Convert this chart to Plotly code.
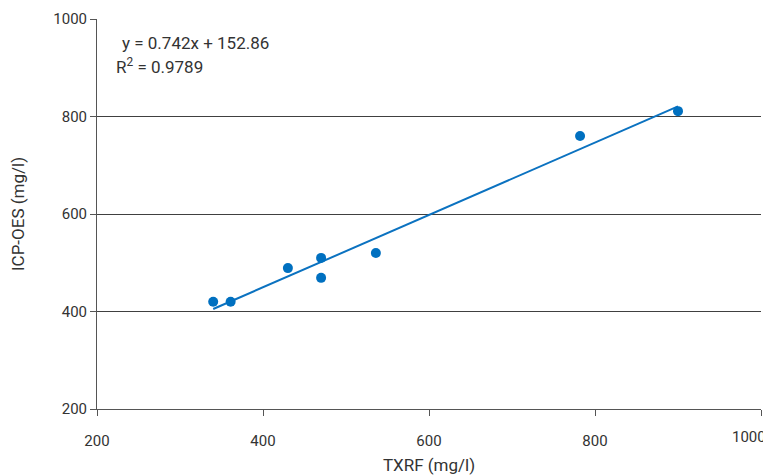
import plotly.graph_objects as go

txrf = [340, 361, 430, 470, 470, 536, 782, 900]
icp = [420, 420, 489, 510, 469, 520, 760, 811]
slope = 0.742
intercept = 152.86
r2 = 0.9789
xticks = [200, 400, 600, 800, 1000]
yticks = [200, 400, 600, 800, 1000]

xline = [min(txrf), max(txrf)]
yline = [slope * v + intercept for v in xline]

FONT = "Roboto, Arial, sans-serif"
TXT = "#333333"

fig = go.Figure()
fig.add_trace(go.Scatter(x=xline, y=yline, mode="lines",
                         line=dict(color="#0b72c0", width=2), hoverinfo="skip"))
fig.add_trace(go.Scatter(x=txrf, y=icp, mode="markers",
                         marker=dict(color="#0070c0", size=10)))

fig.add_annotation(xref="paper", yref="paper", x=0.035, y=0.938, xanchor="left", yanchor="middle",
                   text="y = %.3fx + %.2f" % (slope, intercept), showarrow=False,
                   font=dict(family=FONT, size=17, color=TXT))
fig.add_annotation(xref="paper", yref="paper", x=0.026, y=0.879, xanchor="left", yanchor="middle",
                   text="R<sup>2</sup> = %.4f" % r2, showarrow=False,
                   font=dict(family=FONT, size=17, color=TXT))
# last x tick label, kept inside the window as in the reference
fig.add_annotation(xref="x", yref="paper", x=xticks[-1], y=0, xanchor="right", yanchor="middle",
                   yshift=-28, xshift=6, borderpad=0, text=str(xticks[-1]), showarrow=False,
                   font=dict(family=FONT, size=15, color=TXT))

fig.update_layout(
    width=763, height=467,
    margin=dict(l=89, r=10, t=11, b=66),
    paper_bgcolor="white", plot_bgcolor="white",
    showlegend=False,
    font=dict(family=FONT, size=15, color=TXT),
    xaxis=dict(range=[200, 1000], tickvals=xticks,
               ticktext=[str(v) for v in xticks[:-1]] + [""], automargin=False,
               showgrid=False, zeroline=False, showline=True, linecolor="#555555", linewidth=1,
               ticks="outside", ticklen=6, tickcolor="#555555", ticklabelstandoff=12,
               title=dict(text="TXRF (mg/l)", standoff=10, font=dict(size=17))),
    yaxis=dict(range=[200, 1000], tickvals=yticks, automargin=False,
               showgrid=True, gridcolor="#404040", gridwidth=1, zeroline=False,
               showline=True, linecolor="#555555", linewidth=1,
               ticks="outside", ticklen=6, tickcolor="#555555",
               title=dict(text="ICP-OES (mg/l)", standoff=24, font=dict(size=17))),
)

fig.write_html("out.html")
